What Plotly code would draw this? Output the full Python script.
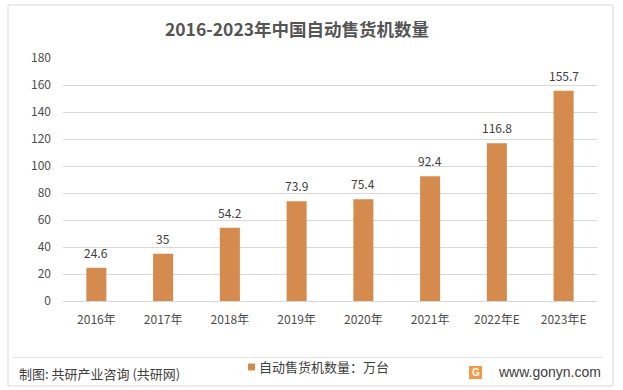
import plotly.graph_objects as go

years = ["2016年", "2017年", "2018年", "2019年", "2020年", "2021年", "2022年E", "2023年E"]
values = [24.6, 35, 54.2, 73.9, 75.4, 92.4, 116.8, 155.7]
value_labels = ["24.6", "35", "54.2", "73.9", "75.4", "92.4", "116.8", "155.7"]
series_name = "自动售货机数量：万台"
title_text = "2016-2023年中国自动售货机数量"
source_text = "制图: 共研产业咨询 (共研网)"
site_text = "www.gonyn.com"

W, H = 623, 390
L, R, T, B = 63, 26, 58, 89
pw, ph = W - L - R, H - T - B

def px(x):
    return (x - L) / pw

def py(y):
    return (H - B - y) / ph

font_family = "Microsoft YaHei, Noto Sans CJK SC, sans-serif"
bar_color = "#D58B4D"
tick_color = "#4D4D4D"

fig = go.Figure()
fig.add_trace(go.Bar(
    x=years, y=values, name=series_name,
    marker=dict(color=bar_color, line=dict(width=0)),
    showlegend=False,
))

annotations = [
    dict(x=yr, y=v, text=lab, xref="x", yref="y", showarrow=False,
         xanchor="center", yanchor="bottom", yshift=5,
         font=dict(size=12, color="#404040", family=font_family))
    for yr, v, lab in zip(years, values, value_labels)
]
annotations += [
    dict(text=series_name, xref="paper", yref="paper", x=px(257), y=py(367),
         xanchor="left", yanchor="middle", showarrow=False,
         font=dict(size=13, color="#404040")),
    dict(text=source_text, xref="paper", yref="paper", x=px(17), y=py(373),
         xanchor="left", yanchor="middle", showarrow=False,
         font=dict(size=13, color="#404040")),
    dict(text="<b>G</b>", xref="paper", yref="paper", x=px(475.5), y=py(372.5),
         xanchor="center", yanchor="middle", showarrow=False,
         font=dict(size=10, color="white", family="Arial, sans-serif")),
    dict(text=site_text, xref="paper", yref="paper", x=px(603), y=py(372),
         xanchor="right", yanchor="middle", showarrow=False,
         font=dict(size=14, color="#404040", family="Arial, Liberation Sans, sans-serif")),
]

fig.update_layout(
    width=W, height=H,
    margin=dict(l=L, r=R, t=T, b=B, autoexpand=False),
    paper_bgcolor="white", plot_bgcolor="white",
    font=dict(family=font_family, color="#595959"),
    bargap=0.7,
    title=dict(text="<b>" + title_text + "</b>", x=297 / W, xanchor="center", y=1 - 30 / H, yanchor="middle",
               font=dict(size=17.5, color="#555555", family=font_family)),
    xaxis=dict(showgrid=False, showline=True, linecolor="#D9D9D9", linewidth=1,
               tickfont=dict(size=12, color=tick_color), ticks="", ticklabelstandoff=8),
    yaxis=dict(range=[0, 180], dtick=20, showgrid=True, gridcolor="#D9D9D9", gridwidth=1,
               zeroline=False, showline=False, tickfont=dict(size=12, color=tick_color),
               ticks="", ticklabelstandoff=11),
    showlegend=False,
    shapes=[
        dict(type="rect", xref="paper", yref="paper", x0=px(8), x1=px(613), y0=py(386), y1=py(5),
             line=dict(color="#D9D9D9", width=1), fillcolor="rgba(0,0,0,0)", layer="below"),
        dict(type="line", xref="paper", yref="paper", x0=px(13), x1=px(603), y0=py(357.5), y1=py(357.5),
             line=dict(color="#E3E3E3", width=1)),
        dict(type="rect", xref="paper", yref="paper", x0=px(248), x1=px(255), y0=py(370.5), y1=py(363.5),
             line=dict(width=0), fillcolor=bar_color),
        dict(type="rect", xref="paper", yref="paper", x0=px(469), x1=px(482), y0=py(379), y1=py(366),
             line=dict(width=0), fillcolor="#F29A4A"),
    ],
    annotations=annotations,
)

fig.write_html("out.html", config={"displayModeBar": False},
               post_script="document.body.style.margin='0';")
